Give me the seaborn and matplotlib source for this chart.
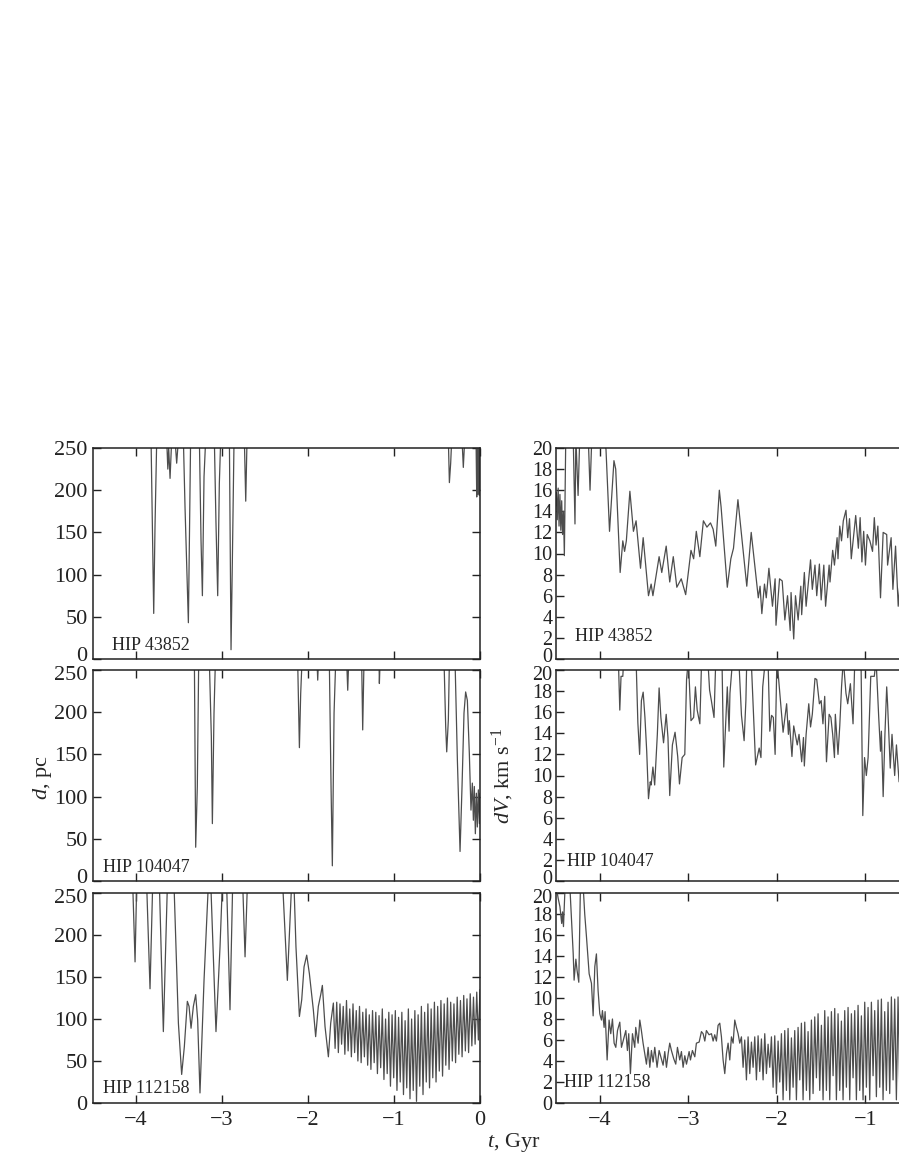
import numpy as np
import matplotlib
matplotlib.use("Agg")
import matplotlib.pyplot as plt
import matplotlib.transforms as mtransforms
import seaborn as sns

# ---- data (t in Gyr) ----
stars = ["HIP 43852", "HIP 104047", "HIP 112158"]

# distance d (pc); values above 250 run off the top of the panel
t_d1 = [-4.50, -3.825, -3.794, -3.779, -3.759,
        -3.643, -3.630, -3.620, -3.604, -3.585,
        -3.546, -3.527, -3.507,
        -3.449, -3.430, -3.391, -3.380, -3.365,
        -3.263, -3.244, -3.228, -3.209, -3.190,
        -3.089, -3.070, -3.050, -3.031, -3.015,
        -2.914, -2.895, -2.880, -2.860,
        -2.740, -2.724, -2.709,
        -0.368, -0.356, -0.341, -0.329,
        -0.209, -0.194, -0.178,
        -0.046, -0.038, -0.033, -0.028, -0.023, -0.018, -0.013, -0.008, -0.004, 0.0]
d1 = [300, 260, 54, 157, 260,
      260, 225, 250, 214, 260,
      260, 232, 260,
      260, 180, 43, 133, 260,
      260, 141, 75, 216, 260,
      260, 161, 75, 208, 260,
      260, 11, 113, 260,
      260, 187, 260,
      260, 209, 232, 260,
      260, 227, 260,
      260, 192, 255, 195, 258, 197, 255, 194, 252, 198]

t_d2 = [-4.50, -3.321, -3.306, -3.287, -3.271,
        -3.147, -3.124, -3.112, -3.093, -3.077,
        -2.120, -2.100, -2.085, -2.070,
        -1.895, -1.887, -1.879,
        -1.752, -1.732, -1.717, -1.697, -1.678,
        -1.550, -1.538, -1.527,
        -1.376, -1.364, -1.349,
        -1.174, -1.170, -1.162,
        -0.418, -0.399, -0.387, -0.368, -0.356,
        -0.290, -0.263, -0.232, -0.209, -0.186, -0.167, -0.147, -0.124, -0.105,
        -0.089, -0.077, -0.066, -0.054, -0.042, -0.031, -0.019, -0.007, 0.0]
d2 = [300, 260, 40, 112, 260,
      260, 171, 68, 199, 260,
      260, 158, 222, 260,
      260, 238, 260,
      260, 112, 18, 199, 260,
      260, 226, 260,
      260, 179, 260,
      260, 234, 260,
      260, 183, 153, 191, 260,
      260, 143, 35, 112, 199, 224, 214, 151, 84,
      116, 72, 112, 56, 104, 64, 108, 68, 104]

t_d3 = [-4.50, -4.038, -4.011, -3.992,
        -3.876, -3.837, -3.806,
        -3.728, -3.682, -3.635,
        -3.558, -3.507, -3.469, -3.438, -3.403, -3.383, -3.360, -3.333, -3.306,
        -3.283, -3.256, -3.209, -3.159,
        -3.130, -3.070, -3.023, -2.996,
        -2.946, -2.907, -2.876,
        -2.759, -2.732, -2.705,
        -2.294, -2.240, -2.190, -2.163, -2.140, -2.100, -2.073, -2.046, -2.015,
        -1.984, -1.938, -1.911, -1.880, -1.852, -1.833, -1.802, -1.763, -1.736, -1.705]
d3 = [300, 260, 168, 260,
      260, 136, 260,
      260, 85, 260,
      260, 95, 34, 67, 121, 115, 89, 115, 129,
      99, 12, 146, 260,
      260, 85, 186, 260,
      260, 111, 260,
      260, 174, 260,
      260, 146, 262, 260, 186, 103, 123, 162, 176,
      154, 111, 79, 115, 129, 140, 91, 55, 95, 119]
# fast oscillation from -1.685 Gyr to the present, evenly sampled
d3_osc = [65, 120, 60, 118, 70, 115, 58, 122, 62, 112, 55, 118, 60, 110, 50, 115,
          48, 108, 55, 112, 45, 105, 40, 110, 48, 108, 35, 104, 42, 112, 28, 100,
          35, 108, 20, 105, 30, 110, 15, 102, 25, 108, 10, 98, 18, 112, 5, 100,
          15, 110, 2, 105, 20, 115, 10, 108, 25, 118, 18, 112, 30, 120, 25, 115,
          38, 122, 32, 118, 45, 125, 40, 120, 50, 118, 48, 126, 58, 122, 55, 128,
          62, 124, 60, 130, 68, 126, 70, 132, 75, 135]

# velocity difference dV (km/s); values above 20 run off the top
t_v1 = [-4.50, -4.49, -4.48, -4.47, -4.46, -4.45, -4.44, -4.43, -4.42, -4.41, -4.40, -4.384,
        -4.30, -4.28, -4.27, -4.245, -4.226, -4.13, -4.11, -4.09, -3.96, -3.93, -3.89,
        -3.84, -3.82, -3.77, -3.74, -3.72, -3.70, -3.66, -3.62, -3.59, -3.54, -3.51,
        -3.45, -3.42, -3.40, -3.33, -3.30, -3.25, -3.21, -3.17, -3.13, -3.08, -3.03,
        -2.97, -2.94, -2.91, -2.87, -2.83, -2.79, -2.75, -2.72, -2.69, -2.65, -2.63,
        -2.56, -2.52, -2.49, -2.44, -2.40, -2.34, -2.29, -2.21,
        -2.19, -2.17, -2.14, -2.12, -2.09, -2.05, -2.02, -2.01, -1.97, -1.94, -1.91,
        -1.88, -1.85, -1.84, -1.81, -1.79, -1.76, -1.73, -1.72, -1.69, -1.67, -1.62,
        -1.60, -1.57, -1.55, -1.52, -1.50, -1.47, -1.45, -1.41, -1.40, -1.37, -1.35,
        -1.32, -1.31, -1.29, -1.27, -1.25, -1.22, -1.20, -1.18, -1.16, -1.11, -1.08,
        -1.06, -1.04, -1.02, -1.00, -0.98, -0.95, -0.92, -0.90, -0.88, -0.86, -0.83,
        -0.80, -0.76, -0.75, -0.71, -0.69, -0.66, -0.63, -0.59, -0.56]
v1 = [14.5, 15.8, 13.2, 16.2, 12.6, 15.6, 12.2, 15.0, 11.8, 14.0, 9.8, 21.0,
      21.0, 12.8, 21.0, 15.5, 21.0, 21.0, 16.0, 21.0, 21.0, 19.9, 12.1,
      18.8, 18.0, 8.2, 11.2, 10.2, 11.2, 15.9, 12.1, 13.1, 8.6, 11.5,
      6.0, 7.1, 6.0, 9.7, 8.2, 10.7, 7.3, 9.7, 6.8, 7.6, 6.1,
      10.3, 9.5, 12.1, 9.7, 13.1, 12.5, 12.9, 12.3, 10.7, 16.0, 14.4,
      6.8, 9.5, 10.5, 15.1, 11.8, 6.9, 12.0, 5.8,
      6.9, 4.3, 7.1, 5.8, 8.6, 5.0, 7.6, 3.2, 7.6, 7.4, 3.7,
      6.0, 2.7, 6.3, 1.9, 6.0, 3.7, 6.9, 4.2, 8.2, 5.0, 9.4,
      6.6, 8.9, 6.0, 9.0, 5.6, 8.9, 5.0, 8.9, 7.3, 10.3, 8.9,
      11.5, 9.5, 12.6, 11.2, 13.1, 14.1, 11.5, 13.3, 9.5, 13.6, 10.5,
      13.4, 9.2, 12.1, 8.9, 11.8, 11.2, 10.2, 13.4, 10.8, 12.6, 5.8,
      12.0, 11.8, 8.9, 11.5, 6.6, 10.7, 5.0, 9.5, 6.3]

t_v2 = [-4.50, -3.79, -3.774, -3.76, -3.74, -3.73, -3.59, -3.57, -3.55, -3.53, -3.51,
        -3.49, -3.47, -3.45, -3.43, -3.42, -3.40, -3.38, -3.35, -3.33, -3.31, -3.28,
        -3.25, -3.23, -3.21, -3.18, -3.15, -3.12, -3.10, -3.07, -3.04, -3.02, -3.00,
        -2.97, -2.94, -2.92, -2.90, -2.87, -2.85, -2.78, -2.76, -2.74, -2.71, -2.69,
        -2.62, -2.60, -2.56, -2.54, -2.53, -2.50, -2.43, -2.40, -2.37, -2.35, -2.34,
        -2.29, -2.24, -2.20, -2.18, -2.16, -2.13, -2.10, -2.08, -2.06, -2.04, -2.02,
        -2.00, -1.98, -1.96, -1.93, -1.89, -1.87, -1.86, -1.83, -1.81, -1.77, -1.75,
        -1.72, -1.70, -1.69, -1.67, -1.64, -1.62, -1.60, -1.57, -1.55, -1.52, -1.50,
        -1.48, -1.46, -1.44, -1.41, -1.39, -1.37, -1.35, -1.34, -1.31, -1.29, -1.27,
        -1.25, -1.22, -1.20, -1.17, -1.14, -1.12, -1.05, -1.03, -1.01, -0.99, -0.97,
        -0.94, -0.90, -0.88, -0.85, -0.83, -0.82, -0.80, -0.78, -0.76, -0.75, -0.72,
        -0.70, -0.67, -0.65, -0.62, -0.59]
v2 = [22.0, 21.0, 16.2, 19.4, 19.4, 21.0, 21.0, 15.0, 12.0, 17.1, 17.9,
      15.5, 12.3, 7.8, 9.4, 9.1, 10.8, 9.1, 13.9, 18.3, 15.5, 13.1,
      15.8, 13.6, 8.1, 12.9, 14.1, 11.8, 9.2, 11.7, 12.0, 19.1, 21.0,
      15.2, 15.5, 18.4, 16.2, 14.9, 21.0, 21.0, 18.1, 17.1, 15.5, 21.0,
      21.0, 10.8, 18.4, 14.2, 17.8, 21.0, 21.0, 15.7, 13.3, 17.1, 21.0,
      21.0, 11.0, 12.6, 11.7, 18.4, 21.0, 21.0, 14.2, 15.7, 15.5, 12.0,
      21.0, 19.1, 17.1, 14.1, 16.8, 13.9, 15.2, 11.8, 14.7, 12.9, 13.9,
      11.3, 13.6, 10.9, 13.9, 16.8, 14.6, 15.8, 19.2, 19.1, 16.8, 17.1,
      14.9, 17.5, 11.3, 15.8, 15.5, 13.9, 11.7, 15.8, 12.0, 14.7, 18.4,
      21.0, 17.8, 16.8, 18.7, 14.9, 21.0, 21.0, 6.2, 11.7, 10.0, 11.7,
      19.4, 19.4, 21.0, 15.5, 12.3, 14.2, 8.0, 13.9, 18.4, 16.8, 10.7,
      13.9, 10.0, 12.9, 9.4, 12.3]

t_v3 = [-4.50, -4.47, -4.45, -4.43, -4.42, -4.41, -4.39, -4.34, -4.30, -4.29, -4.27,
        -4.256, -4.237, -4.218, -4.19, -4.17, -4.15, -4.12, -4.094, -4.075, -4.056,
        -4.038, -4.019, -4.00, -3.981, -3.97, -3.951, -3.94, -3.917, -3.895, -3.876,
        -3.857, -3.838, -3.819, -3.80, -3.774, -3.755, -3.737, -3.706, -3.688, -3.673,
        -3.654, -3.631, -3.605, -3.594, -3.567, -3.548, -3.53, -3.511, -3.492, -3.473,
        -3.454, -3.435, -3.417, -3.398, -3.379, -3.353, -3.33, -3.311, -3.285, -3.266,
        -3.247, -3.228, -3.21, -3.191, -3.164, -3.142, -3.123, -3.097, -3.078, -3.059,
        -3.04, -3.021, -2.991, -2.976, -2.954, -2.927, -2.909, -2.878, -2.852, -2.833,
        -2.814, -2.796, -2.766, -2.739, -2.72, -2.702, -2.683, -2.664]
v3 = [21.0, 19.5, 18.7, 17.1, 18.2, 16.8, 21.0, 21.0, 14.2, 11.7, 13.7,
      12.6, 11.5, 21.0, 21.0, 18.0, 15.8, 12.3, 11.4, 8.3, 13.0,
      14.2, 10.7, 8.5, 7.9, 8.8, 7.2, 8.7, 4.1, 7.9, 6.6,
      8.0, 5.7, 5.3, 6.9, 7.7, 5.3, 5.9, 6.9, 5.0, 6.6,
      2.8, 6.6, 5.3, 7.2, 5.7, 7.9, 6.9, 5.7, 4.7, 3.7,
      5.3, 3.4, 5.0, 3.9, 5.3, 3.4, 5.0, 4.4, 3.6, 4.9,
      3.4, 4.7, 5.7, 5.0, 4.2, 3.7, 5.3, 4.1, 4.9, 3.4,
      4.5, 3.7, 4.9, 4.1, 5.0, 4.4, 5.7, 5.8, 6.8, 6.6,
      5.9, 6.9, 6.5, 6.6, 5.9, 6.5, 5.9, 7.4]
# fast oscillation from -2.645 to -0.613 Gyr, evenly sampled
v3_osc = [7.6, 6.3, 4.1, 2.8, 4.7, 5.7, 4.1, 6.3, 5.7, 7.9, 7.2, 6.6, 5.7, 6.3,
          3.4, 6.0, 2.2, 6.3, 2.8, 5.8, 3.4, 6.3, 2.2, 6.4, 3.0, 6.1, 2.2, 6.6,
          2.8, 5.6, 3.4, 6.3, 1.5, 6.4, 0.9, 5.9, 2.0, 6.6, 0.3, 6.9, 1.2, 7.1,
          0.3, 6.2, 1.5, 6.9, 0.3, 7.2, 2.2, 7.6, 0.3, 7.7, 1.2, 6.8, 0.3, 7.9,
          0.9, 8.2, 2.4, 8.5, 1.2, 7.4, 0.3, 8.8, 1.2, 8.2, 0.3, 8.7, 2.6, 9.0,
          0.3, 8.5, 1.2, 7.8, 0.3, 8.8, 1.5, 9.1, 0.3, 8.5, 2.4, 8.8, 0.3, 9.3,
          1.2, 8.3, 0.3, 9.6, 1.5, 9.1, 0.3, 9.6, 2.6, 8.8, 0.6, 9.8, 1.5, 9.9,
          0.3, 8.7, 1.2, 9.6, 0.9, 10.1, 2.2, 9.9, 0.3, 10.1, 1.5]

# ---- assemble ----
t_d3_all = np.concatenate([t_d3, np.linspace(-1.685, 0.0, len(d3_osc))])
d3_all = np.concatenate([d3, d3_osc])
t_v3_all = np.concatenate([t_v3, np.linspace(-2.645, -0.613, len(v3_osc))])
v3_all = np.concatenate([v3, v3_osc])

dist = [(t_d1, d1), (t_d2, d2), (t_d3_all, d3_all)]
vel = [(t_v1, v1), (t_v2, v2), (t_v3_all, v3_all)]

# ---- figure ----
sns.set_style("ticks")
plt.rcParams["font.family"] = ["Liberation Serif", "DejaVu Serif"]
plt.rcParams["mathtext.fontset"] = "custom"
plt.rcParams["mathtext.rm"] = "Liberation Serif"
plt.rcParams["mathtext.it"] = "Liberation Serif:italic"

W, H = 899, 1163
fig = plt.figure(figsize=(W / 100, H / 100), dpi=100)
rows = [(448, 659), (670, 881), (893, 1103)]
cols = [(93, 480), (555.5, 954)]
LINE = "#4d4d4d"

# label positions (axes fraction) per column
lab_xy = [[(0.049, 0.043), (0.026, 0.043), (0.026, 0.048)],
          [(0.049, 0.087), (0.028, 0.071), (0.021, 0.076)]]


def add_ax(c, r):
    x0, x1 = cols[c]
    y0, y1 = rows[r]
    return fig.add_axes([x0 / W, 1 - y1 / H, (x1 - x0) / W, (y1 - y0) / H])


def nudge(ax, idx, dy_px):
    # shift one y tick label vertically so stacked panels don't collide
    lab = ax.yaxis.get_major_ticks()[idx].label1
    lab.set_transform(lab.get_transform() + mtransforms.ScaledTranslation(
        0, dy_px / fig.dpi, fig.dpi_scale_trans))


def style(ax, ymax, ystep, bottom, ypad, xticks, size):
    ax.set_xlim(-4.5, 0)
    ax.set_ylim(0, ymax)
    ax.set_xticks(xticks)
    ax.set_yticks(np.arange(0, ymax + 1, ystep))
    ax.tick_params(direction="in", length=6, width=1, top=True, right=True,
                   labelsize=size, colors="#222222")
    ax.tick_params(axis="y", pad=ypad)
    ax.tick_params(axis="x", pad=6, labelbottom=bottom)
    ax.tick_params(axis="x", labelsize=16)
    ax.set_xlabel("")
    ax.set_ylabel("")
    for s in ax.spines.values():
        s.set_linewidth(1.1)
        s.set_color("#222222")


for r in range(3):
    ax = add_ax(0, r)
    t, d = dist[r]
    sns.lineplot(x=np.asarray(t), y=np.asarray(d), ax=ax, color=LINE,
                 linewidth=0.9, estimator=None, sort=False)
    style(ax, 250, 50, r == 2, 4, [-4, -3, -2, -1, 0], 16)
    if r < 2:
        nudge(ax, 0, 5)
    if r > 0:
        nudge(ax, -1, -3)
    ax.text(*lab_xy[0][r], stars[r], transform=ax.transAxes, fontsize=13,
            ha="left", va="baseline")

    ax = add_ax(1, r)
    t, v = vel[r]
    sns.lineplot(x=np.asarray(t), y=np.asarray(v), ax=ax, color=LINE,
                 linewidth=0.9, estimator=None, sort=False)
    # the right column is cropped before t = 0 in the original
    style(ax, 20, 2, r == 2, 2, [-4, -3, -2, -1], 14.5)
    if r < 2:
        nudge(ax, 0, 4)
    if r > 0:
        nudge(ax, -1, -3)
    ax.text(*lab_xy[1][r], stars[r], transform=ax.transAxes, fontsize=13,
            ha="left", va="baseline")

fig.text(42 / W, 1 - 778 / H, r"$d$, pc", rotation=90, fontsize=16,
         ha="center", va="center")
fig.text(503 / W, 1 - 776 / H, r"$dV$, km s$^{-1}$", rotation=90, fontsize=16,
         ha="center", va="center")
fig.text(514 / W, 1 - 1143 / H, r"$t$, Gyr", fontsize=16, ha="center", va="center")

fig.savefig("out.png", dpi=100, facecolor="white")
